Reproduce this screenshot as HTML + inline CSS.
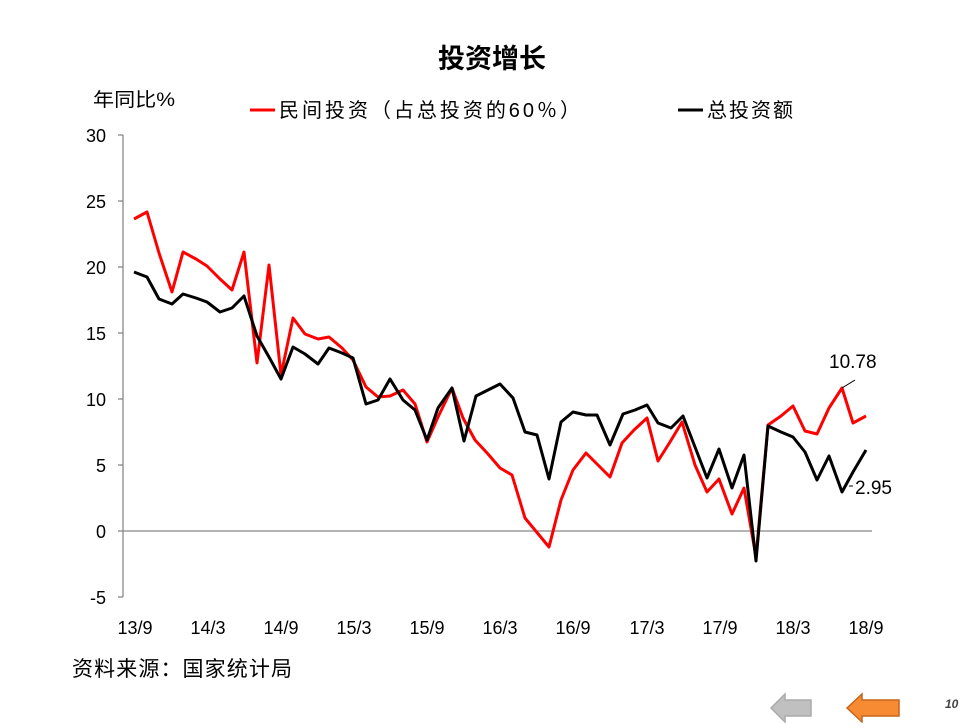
<!DOCTYPE html>
<html><head><meta charset="utf-8"><style>
body{margin:0;background:#fff;width:972px;height:723px;overflow:hidden}
svg text{font-family:"Liberation Sans","Noto Sans CJK SC",sans-serif}
</style></head><body>
<svg width="972" height="723" viewBox="0 0 972 723">
<text x="492" y="68" font-size="27" font-weight="bold" text-anchor="middle">投资增长</text>
<text x="93" y="106" font-size="19" textLength="82" lengthAdjust="spacingAndGlyphs">年同比%</text>
<line x1="250" y1="110" x2="275" y2="110" stroke="#f00" stroke-width="3"/>
<text x="279" y="117" font-size="20" textLength="301" lengthAdjust="spacing">民间投资（占总投资的60％）</text>
<line x1="678" y1="110" x2="703" y2="110" stroke="#000" stroke-width="3"/>
<text x="707" y="117" font-size="20" textLength="86" lengthAdjust="spacing">总投资额</text>
<g stroke="#888" stroke-width="1.3">
<line x1="123" y1="135" x2="123" y2="597"/>
<line x1="118" y1="135" x2="123" y2="135"/><line x1="118" y1="201" x2="123" y2="201"/>
<line x1="118" y1="267" x2="123" y2="267"/><line x1="118" y1="333" x2="123" y2="333"/>
<line x1="118" y1="399" x2="123" y2="399"/><line x1="118" y1="465" x2="123" y2="465"/>
<line x1="118" y1="531" x2="123" y2="531"/><line x1="118" y1="597" x2="123" y2="597"/>
<line x1="123" y1="531" x2="872" y2="531"/>
</g>
<g font-size="18" text-anchor="end">
<text x="106" y="142">30</text><text x="106" y="208">25</text><text x="106" y="274">20</text>
<text x="106" y="340">15</text><text x="106" y="406">10</text><text x="106" y="472">5</text>
<text x="106" y="538">0</text><text x="106" y="604">-5</text>
</g>
<g font-size="18" text-anchor="middle">
<text x="135" y="634">13/9</text><text x="208" y="634">14/3</text><text x="281" y="634">14/9</text>
<text x="354" y="634">15/3</text><text x="427" y="634">15/9</text><text x="500" y="634">16/3</text>
<text x="573" y="634">16/9</text><text x="647" y="634">17/3</text><text x="720" y="634">17/9</text>
<text x="793" y="634">18/3</text><text x="866" y="634">18/9</text>
</g>
<polyline fill="none" stroke="#f00" stroke-width="3" stroke-linejoin="round" points="134,219 147,212 159,253 172,292 183,252 196,259 207,266 220,279 232,290 244,252 257,363 269,265 281,375 293,318 305,334 318,339 329,337 342,348 353,360 366,387 378,397 390,396 403,390 415,404 427,442 438,417 452,388 463,418 475,440 488,454 500,468 512,475 525,518 549,547 561,500 573,470 586,453 598,465 610,477 622,443 634,430 647,418 658,461 670,442 682,422 695,465 707,492 719,479 732,514 744,488 756,557 768,425 781,416 793,406 805,431 817,434 829,408 842,388 853,423 866,416"/>
<polyline fill="none" stroke="#000" stroke-width="3" stroke-linejoin="round" points="134,272 147,277 159,299 172,304 183,294 196,298 207,302 220,312 232,308 244,296 257,336 269,357 281,379 293,347 305,354 318,364 329,348 342,353 353,358 366,404 378,400 390,379 403,400 415,410 427,440 438,408 452,388 464,441 476,396 488,390 500,384 513,398 525,432 537,435 549,479 561,422 573,412 586,415 597,415 610,445 623,414 635,410 647,405 658,423 671,428 683,416 695,447 707,478 719,449 732,488 744,455 756,561 768,426 781,432 793,437 805,452 817,480 829,456 842,492 853,472 866,450"/>
<line x1="842" y1="388" x2="855" y2="380" stroke="#000" stroke-width="1"/>
<text x="829" y="368" font-size="19">10.78</text>
<line x1="849" y1="486" x2="853" y2="486" stroke="#000" stroke-width="1"/>
<text x="855" y="494" font-size="19">2.95</text>
<text x="72" y="676" font-size="21" textLength="220" lengthAdjust="spacing">资料来源：国家统计局</text>
<polygon points="771,708 785,694 785,700 811,700 811,716 785,716 785,722" fill="#c0c0c0" stroke="#aaa" stroke-width="1.5"/>
<polygon points="847,708 862,694 862,700 899,700 899,716 862,716 862,722" fill="#f68b33" stroke="#c7641d" stroke-width="1.5"/>
<text x="945" y="708" font-size="12" font-style="italic" font-weight="bold" fill="#444">10</text>
</svg>
</body></html>
